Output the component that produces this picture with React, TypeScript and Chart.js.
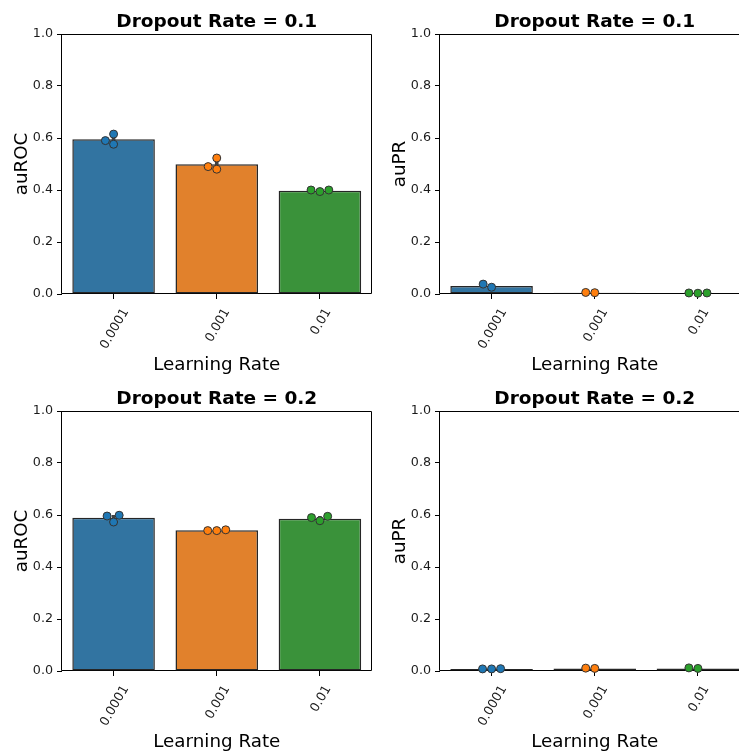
import React, { useEffect, useRef } from 'react';
import { Chart, registerables } from 'chart.js';

Chart.register(...registerables);

// ---------- data ----------
const learningRates = ['0.0001', '0.001', '0.01'];
const yTickValues = [0, 0.2, 0.4, 0.6, 0.8, 1.0];

// Dropout 0.1 – auROC
const aurocDrop01Bars = [0.595, 0.499, 0.397];
const aurocDrop01Points = [
  [0.615, 0.59, 0.576],
  [0.523, 0.49, 0.48],
  [0.4, 0.394, 0.4],
];
const aurocDrop01Ci = [
  [0.576, 0.615],
  [0.48, 0.523],
  [0.394, 0.4],
];

// Dropout 0.1 – auPR
const auprDrop01Bars = [0.031, 0.005, 0.003];
const auprDrop01Points = [
  [0.038, 0.026],
  [0.006, 0.005],
  [0.004, 0.003, 0.004],
];
const auprDrop01Ci = [
  [0.026, 0.038],
  [0.005, 0.006],
  [0.003, 0.004],
];

// Dropout 0.2 – auROC
const aurocDrop02Bars = [0.589, 0.541, 0.586];
const aurocDrop02Points = [
  [0.596, 0.599, 0.573],
  [0.54, 0.54, 0.543],
  [0.59, 0.578, 0.595],
];
const aurocDrop02Ci = [
  [0.573, 0.599],
  [0.54, 0.543],
  [0.578, 0.595],
];

// Dropout 0.2 – auPR
const auprDrop02Bars = [0.008, 0.01, 0.01];
const auprDrop02Points = [
  [0.008, 0.008, 0.009],
  [0.01, 0.011],
  [0.01, 0.012],
];
const auprDrop02Ci = [
  [0.008, 0.009],
  [0.01, 0.011],
  [0.01, 0.012],
];

// ---------- styles ----------
const FONT = "'DejaVu Sans', 'Liberation Sans', sans-serif";
const barFill = ['#3274a1', '#e1812c', '#3a923a'];
const pointFill = ['#1f77b4', '#ff7f0e', '#2ca02c'];
const SWARM_R = 4.3;

type PanelDef = {
  title: string;
  ylabel: string;
  bars: number[];
  points: number[][];
  ci: number[][];
  left: number;
  top: number;
  areaLeft: number;
  padRight: number;
};

const panels: PanelDef[] = [
  { title: 'Dropout Rate = 0.1', ylabel: 'auROC', bars: aurocDrop01Bars, points: aurocDrop01Points, ci: aurocDrop01Ci, left: 0, top: 0, areaLeft: 62, padRight: 8.5 },
  { title: 'Dropout Rate = 0.1', ylabel: 'auPR', bars: auprDrop01Bars, points: auprDrop01Points, ci: auprDrop01Ci, left: 380, top: 0, areaLeft: 60, padRight: 10.5 },
  { title: 'Dropout Rate = 0.2', ylabel: 'auROC', bars: aurocDrop02Bars, points: aurocDrop02Points, ci: aurocDrop02Ci, left: 0, top: 377, areaLeft: 62, padRight: 8.5 },
  { title: 'Dropout Rate = 0.2', ylabel: 'auPR', bars: auprDrop02Bars, points: auprDrop02Points, ci: auprDrop02Ci, left: 380, top: 377, areaLeft: 60, padRight: 10.5 },
];

// seaborn-like beeswarm: ys in "up" pixel coords, returns x offsets in px
function swarmOffsets(ys: number[], r: number): number[] {
  const order = ys.map((_, i) => i).sort((a, b) => ys[a] - ys[b] || a - b);
  const placed: { x: number; y: number }[] = [];
  const out = new Array(ys.length).fill(0);
  const d = 2 * r;
  for (const i of order) {
    const y = ys[i];
    if (placed.length === 0) {
      placed.push({ x: 0, y });
      out[i] = 0;
      continue;
    }
    const neighbors: { x: number; y: number }[] = [];
    for (let j = placed.length - 1; j >= 0; j--) {
      if (y - placed[j].y < d) neighbors.push(placed[j]);
      else break;
    }
    const cands: number[] = [0];
    let leftFirst = true;
    for (const n of neighbors) {
      const dy = y - n.y;
      const dx = Math.sqrt(Math.max(d * d - dy * dy, 0)) * 1.05;
      if (leftFirst) cands.push(n.x - dx, n.x + dx);
      else cands.push(n.x + dx, n.x - dx);
      leftFirst = !leftFirst;
    }
    const idx = cands.map((_, k) => k).sort((a, b) => Math.abs(cands[a]) - Math.abs(cands[b]) || a - b);
    let chosen = 0;
    for (const k of idx) {
      const cx = cands[k];
      const ok = neighbors.every((n) => (cx - n.x) ** 2 + (y - n.y) ** 2 >= d * d - 1e-6);
      if (ok) {
        chosen = cx;
        break;
      }
    }
    placed.push({ x: chosen, y });
    out[i] = chosen;
  }
  return out;
}

function PanelChart({ panel }: { panel: PanelDef }) {
  const ref = useRef<HTMLCanvasElement>(null);

  useEffect(() => {
    const canvas = ref.current;
    if (!canvas) return;

    const framePlugin = {
      id: 'frame',
      beforeDatasetsDraw(chart: any) {
        const { ctx, chartArea } = chart;
        ctx.save();
        ctx.strokeStyle = '#000';
        ctx.lineWidth = 1;
        const l = Math.round(chartArea.left) - 0.5;
        const r = Math.round(chartArea.right) - 0.5;
        const t = Math.round(chartArea.top) + 0.5;
        const b = Math.round(chartArea.bottom) - 0.5;
        ctx.beginPath();
        ctx.moveTo(l, b);
        ctx.lineTo(l, t);
        ctx.lineTo(r, t);
        ctx.lineTo(r, b);
        ctx.lineTo(l, b);
        ctx.stroke();
        ctx.restore();
      },
    };

    const textPlugin = {
      id: 'texts',
      afterDraw(chart: any) {
        const { ctx, chartArea } = chart;
        const xs = chart.scales.x;
        const cx = (chartArea.left + chartArea.right) / 2;
        const cy = (chartArea.top + chartArea.bottom) / 2;
        ctx.save();
        ctx.fillStyle = '#000';
        // title
        ctx.font = `bold 18.5px ${FONT}`;
        ctx.textAlign = 'center';
        ctx.textBaseline = 'alphabetic';
        ctx.fillText(panel.title, cx, chartArea.top - 7.5);
        // x tick labels rotated 60deg, centred on tick
        const fs = 12.7;
        ctx.font = `${fs}px ${FONT}`;
        ctx.fillStyle = '#1a1a1a';
        learningRates.forEach((lab, i) => {
          const px = xs.getPixelForValue(i);
          const w = ctx.measureText(lab).width;
          const py = chartArea.bottom + 15 + w * Math.sin(Math.PI / 3) / 2;
          ctx.save();
          ctx.translate(px, py);
          ctx.rotate(-Math.PI / 3);
          ctx.textAlign = 'center';
          ctx.textBaseline = 'alphabetic';
          ctx.fillText(lab, 0, fs * 0.365);
          ctx.restore();
        });
        // axis titles
        ctx.fillStyle = '#000';
        ctx.font = `18.3px ${FONT}`;
        ctx.textAlign = 'center';
        ctx.textBaseline = 'alphabetic';
        ctx.fillText('Learning Rate', cx, chartArea.bottom + 76);
        ctx.save();
        ctx.translate(chartArea.left - 35, cy);
        ctx.rotate(-Math.PI / 2);
        ctx.fillText(panel.ylabel, 0, 0);
        ctx.restore();
        ctx.restore();
      },
    };

    const scatterSets = panel.points.map((vals, i) => ({
      type: 'scatter' as const,
      data: vals.map((v) => ({ x: i, y: v })),
      backgroundColor: pointFill[i],
      borderColor: '#333333',
      borderWidth: 1,
      pointRadius: 4,
      pointHoverRadius: 4,
      clip: false as any,
      order: 0,
    }));

    const gridOpts = {
      display: true,
      offset: false,
      drawOnChartArea: false,
      drawTicks: true,
      tickLength: 5,
      color: '#000',
      lineWidth: 1,
    };

    const chart = new Chart(canvas, {
      type: 'bar',
      data: {
        datasets: [
          ...scatterSets,
          {
            type: 'bar',
            data: panel.ci.map((c, i) => ({ x: i, y: [c[0], c[1]] })),
            backgroundColor: '#424242',
            borderWidth: 0,
            barThickness: 3,
            grouped: false,
            order: 1,
          },
          {
            type: 'bar',
            data: panel.bars.map((v, i) => ({ x: i, y: v })),
            backgroundColor: barFill,
            borderColor: '#262626',
            borderWidth: 1.5,
            borderSkipped: false,
            grouped: false,
            categoryPercentage: 1,
            barPercentage: 0.8,
            order: 2,
          },
        ] as any,
      },
      options: {
        animation: false,
        responsive: false,
        events: [],
        layout: { padding: { top: 34, right: panel.padRight, bottom: 0, left: 0 } },
        plugins: {
          legend: { display: false },
          tooltip: { enabled: false },
          title: { display: false },
        },
        scales: {
          x: {
            type: 'linear',
            min: -0.5,
            max: 2.5,
            offset: false,
            afterBuildTicks: (s: any) => {
              s.ticks = learningRates.map((_, i) => ({ value: i }));
            },
            afterFit: (s: any) => {
              s.height = 83;
            },
            ticks: { display: false },
            grid: gridOpts,
            border: { display: false },
          },
          y: {
            type: 'linear',
            min: 0,
            max: 1,
            afterBuildTicks: (s: any) => {
              s.ticks = yTickValues.map((v) => ({ value: v }));
            },
            afterFit: (s: any) => {
              s.width = panel.areaLeft;
            },
            ticks: {
              font: { family: FONT, size: 12.7 },
              color: '#1a1a1a',
              padding: 4,
              callback: (v: any) => Number(v).toFixed(1),
            },
            grid: gridOpts,
            border: { display: false },
          },
        },
      } as any,
      plugins: [framePlugin, textPlugin],
    });

    // beeswarm placement of points, computed through the chart's scales
    const xs: any = chart.scales.x;
    const ys: any = chart.scales.y;
    const unit = xs.getPixelForValue(1) - xs.getPixelForValue(0);
    panel.points.forEach((vals, i) => {
      const up = vals.map((v) => -ys.getPixelForValue(v));
      const offs = swarmOffsets(up, SWARM_R);
      (chart.data.datasets[i] as any).data = vals.map((v, k) => ({ x: i + offs[k] / unit, y: v }));
    });
    chart.update();

    return () => chart.destroy();
  }, [panel]);

  return (
    <canvas
      ref={ref}
      width={380}
      height={377}
      style={{ position: 'absolute', left: panel.left, top: panel.top, width: 380, height: 377 }}
    />
  );
}

export default function App() {
  return (
    <div
      style={{
        position: 'absolute',
        left: 0,
        top: 0,
        width: 739,
        height: 754,
        overflow: 'hidden',
        background: '#fff',
      }}
    >
      {panels.map((p, i) => (
        <PanelChart key={i} panel={p} />
      ))}
    </div>
  );
}
